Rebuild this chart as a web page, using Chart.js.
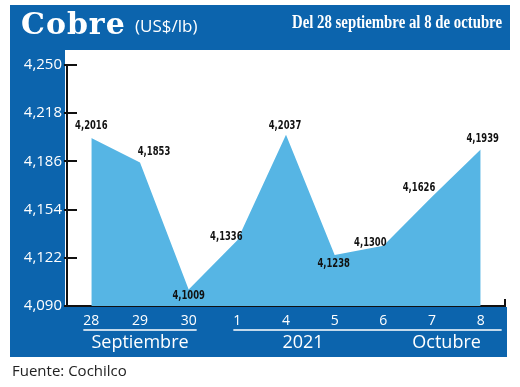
<!DOCTYPE html>
<html>
<head>
<meta charset="utf-8">
<script src="https://cdn.jsdelivr.net/npm/chart.js@4.4.0/dist/chart.umd.min.js"></script>
<style>
  html, body { margin: 0; padding: 0; background: #fff; }
  #wrap { width: 520px; height: 387px; }
</style>
</head>
<body>
<div id="wrap"><canvas id="cobreChart" width="520" height="387"></canvas></div>
<script>
// datos
const days = ["28", "29", "30", "1", "4", "5", "6", "7", "8"];
const cobre = [4.2016, 4.1853, 4.1009, 4.1336, 4.2037, 4.1238, 4.1300, 4.1626, 4.1939];
const yTicks = [4.090, 4.122, 4.154, 4.186, 4.218, 4.250];
const groups = ["Septiembre", "2021", "Octubre"];

const BLUE = "#0c64ad";
const FILL = "#56b5e4";

// where each value label sits relative to its point (dx, dy)
const labelOffsets = [[0, -12], [14, -11], [0, 6], [-11, -3], [-1, -9], [-1, 9], [-13, -3], [-13, -9], [2, -11]];

const fmt = (v, d) => v.toFixed(d).replace(".", ",");

function fitText(ctx, text, x, y, maxW, align) {
  const w = ctx.measureText(text).width;
  const s = Math.min(1, maxW / w);
  ctx.save();
  ctx.translate(x, y);
  ctx.scale(s, 1);
  ctx.textAlign = align;
  ctx.fillText(text, 0, 0);
  ctx.restore();
}

const framePlugin = {
  id: "frame",
  beforeDraw(chart) {
    const ctx = chart.ctx;
    ctx.save();
    ctx.fillStyle = "#fff";
    ctx.fillRect(0, 0, chart.width, chart.height);
    ctx.fillStyle = BLUE;
    ctx.fillRect(10, 5, 500, 45);
    ctx.fillRect(10, 50, 55, 307);
    ctx.fillRect(10, 307, 497, 50);
    ctx.restore();
  },
  afterDraw(chart) {
    const ctx = chart.ctx;
    const x = chart.scales.x, y = chart.scales.y;
    const area = chart.chartArea;
    ctx.save();

    // header
    ctx.fillStyle = "#fff";
    ctx.textBaseline = "alphabetic";
    ctx.font = 'bold 30px "DejaVu Serif"';
    ctx.letterSpacing = "1px";
    ctx.textAlign = "left";
    ctx.fillText("Cobre", 21, 34);
    ctx.letterSpacing = "0px";
    ctx.font = '17px "Open Sans"';
    ctx.fillText("(US$/lb)", 135, 32);
    ctx.font = 'bold 18px "Liberation Serif"';
    fitText(ctx, "Del 28 septiembre al 8 de octubre", 502, 28, 210, "right");

    // inward ticks on y
    ctx.strokeStyle = "#111";
    ctx.lineWidth = 2;
    yTicks.forEach(v => {
      const py = Math.round(y.getPixelForValue(v));
      ctx.beginPath();
      ctx.moveTo(area.left - 3, py);
      ctx.lineTo(area.left + 10, py);
      ctx.stroke();
    });
    // right end tick on x
    ctx.beginPath();
    ctx.moveTo(area.right, area.bottom);
    ctx.lineTo(area.right, area.bottom - 7);
    ctx.stroke();

    // value labels
    ctx.fillStyle = "#111";
    ctx.font = 'bold 12px "Liberation Sans Narrow", "DejaVu Sans Condensed"';
    ctx.textBaseline = "middle";
    cobre.forEach((v, i) => {
      const px = x.getPixelForValue(i) + labelOffsets[i][0];
      const py = y.getPixelForValue(v) + labelOffsets[i][1];
      ctx.save();
      ctx.translate(px, py);
      ctx.scale(0.78, 1);
      ctx.textAlign = "center";
      ctx.fillText(fmt(v, 4), 0, 0);
      ctx.restore();
    });

    // month groups below the days
    const step = x.getPixelForValue(1) - x.getPixelForValue(0);
    ctx.strokeStyle = "#fff";
    ctx.lineWidth = 1.5;
    ctx.beginPath();
    ctx.moveTo(x.getPixelForValue(0) - 8, 330);
    ctx.lineTo(x.getPixelForValue(2) + 8, 330);
    ctx.moveTo(x.getPixelForValue(3) - 4, 330);
    ctx.lineTo(x.getPixelForValue(8) + 21, 330);
    ctx.stroke();
    ctx.fillStyle = "#fff";
    ctx.font = '18px "Open Sans"';
    ctx.textAlign = "center";
    ctx.textBaseline = "middle";
    ctx.fillText(groups[0], x.getPixelForValue(1), 343);
    ctx.fillText(groups[1], x.getPixelForValue(4) + step * 0.35, 343);
    ctx.fillText(groups[2], x.getPixelForValue(7) + step * 0.3, 343);

    // source
    ctx.fillStyle = "#222";
    ctx.font = '15px "Open Sans"';
    ctx.textAlign = "left";
    ctx.fillText("Fuente: Cochilco", 12, 372);
    ctx.restore();
  }
};

new Chart(document.getElementById("cobreChart"), {
  type: "line",
  data: {
    labels: days,
    datasets: [{
      data: cobre,
      fill: "start",
      backgroundColor: FILL,
      borderWidth: 0,
      pointRadius: 0,
      tension: 0
    }]
  },
  options: {
    responsive: false,
    animation: false,
    layout: { padding: { left: 0, top: 65, right: 15, bottom: 0 } },
    plugins: { legend: { display: false }, tooltip: { enabled: false } },
    scales: {
      x: {
        offset: true,
        afterFit: s => { s.height = 387 - 65 - 241; },
        grid: { display: true, drawOnChartArea: false, drawTicks: false },
        border: { display: true, color: "#111", width: 2 },
        ticks: { color: "#fff", font: { family: "Open Sans", size: 14 }, padding: 7 }
      },
      y: {
        min: 4.09,
        max: 4.25,
        afterFit: s => { s.width = 67; },
        afterBuildTicks: s => { s.ticks = yTicks.map(v => ({ value: v })); },
        grid: { display: true, drawOnChartArea: false, drawTicks: false },
        border: { display: true, color: "#111", width: 2 },
        ticks: {
          color: "#fff",
          font: { family: "Open Sans", size: 15 },
          padding: 5,
          callback: v => fmt(v, 3)
        }
      }
    }
  },
  plugins: [framePlugin]
});
</script>
</body>
</html>
